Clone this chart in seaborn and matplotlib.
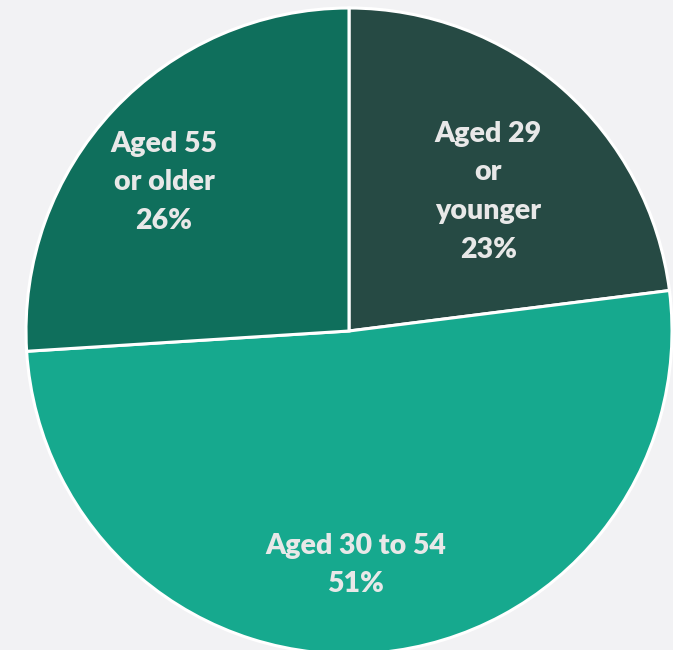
import numpy as np
import matplotlib
matplotlib.use("Agg")
import matplotlib.pyplot as plt
import seaborn as sns

# Age bands, clockwise from twelve o'clock
categories = ["Aged 29\nor\nyounger", "Aged 30 to 54", "Aged 55\nor older"]
shares = [23, 51, 26]
colors = ["#264a44", "#16a98e", "#0f6f5c"]

# label placement: (fraction of radius, angle in degrees)
label_pos = [(0.61, 45.0), (0.725, -88.3), (0.735, 141.2)]

sns.set_theme(style="white")
plt.rcParams["font.family"] = ["Lato", "DejaVu Sans"]

W, H, DPI = 673, 650, 100
cx, cy, R = 349, 331, 323

fig = plt.figure(figsize=(W / DPI, H / DPI), dpi=DPI, facecolor="#f2f2f4")
ax = fig.add_axes([0, 0, 1, 1])
ax.set_facecolor("#f2f2f4")

palette = sns.color_palette(colors)
ax.pie(shares, colors=palette, startangle=90, counterclock=False,
       radius=1.0, center=(0, 0),
       wedgeprops=dict(edgecolor="white", linewidth=2.2))

for text, share, (rf, ang) in zip(categories, shares, label_pos):
    t = np.deg2rad(ang)
    ax.text(rf * np.cos(t), rf * np.sin(t), f"{text}\n{share}%",
            ha="center", va="center", color="#e8e8e8", fontsize=20.5,
            fontweight="heavy", linespacing=1.6)

ax.set_aspect("auto")
ax.set_xlim(-cx / R, (W - cx) / R)
ax.set_ylim(-(H - cy) / R, cy / R)
ax.axis("off")

fig.savefig("out.png", dpi=DPI, facecolor=fig.get_facecolor())
